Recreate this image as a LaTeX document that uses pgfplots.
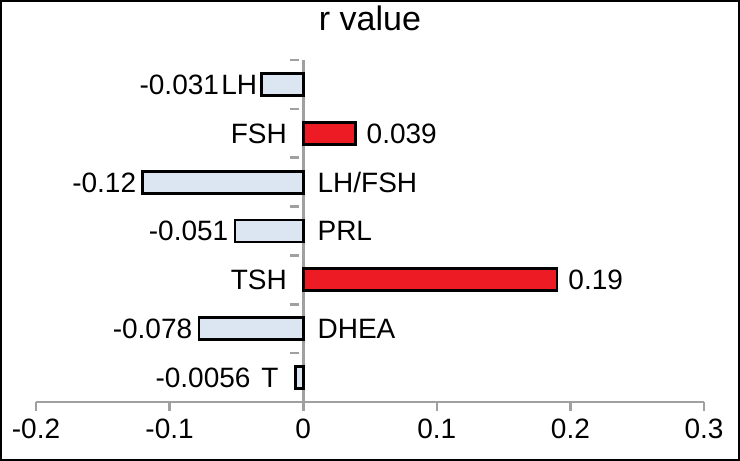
\documentclass[border=0pt]{standalone}
\usepackage{pgfplots}
\pgfplotsset{compat=1.18}
\usepackage{pgfplotstable}
\usepackage{fontspec}
\setmainfont{Liberation Sans}
\definecolor{barred}{RGB}{237,28,36}
\definecolor{barblue}{RGB}{220,230,242}
\definecolor{axgray}{RGB}{160,160,160}

% y: 7 = LH (top) ... 1 = T (bottom)
\pgfplotstableread{
y x lab dx
6 0.039 0.039 0
3 0.19 0.19 0
}\posdata
\pgfplotstableread{
y x lab dx
7 -0.031 -0.031 -18
5 -0.12 -0.12 0
4 -0.051 -0.051 0
2 -0.078 -0.078 0
1 -0.0056 -0.0056 -19.2
}\negdata

\begin{document}
\begin{tikzpicture}[font=\fontsize{14}{16}\selectfont]
\begin{axis}[
  scale only axis, width=334pt, height=171pt,
  xmin=-0.2, xmax=0.3, ymin=0.5, ymax=7.5,
  xbar, clip=false,
  axis x line=bottom, axis y line=middle,
  x axis line style={-, axgray, line width=1.3pt},
  y axis line style={-, axgray, line width=1.3pt},
  xtick={-0.2,-0.1,0,0.1,0.2,0.3},
  xticklabels={-0.2,-0.1,0,0.1,0.2,0.3},
  ytick={1.5,2.5,3.5,4.5,5.5,6.5,7.5},
  yticklabels={},
  tick align=outside, major tick length=4.5pt,
  tick style={axgray, line width=1.3pt},
  ytick style={xshift=-2.25pt},
  xticklabel style={inner sep=0pt, anchor=north, yshift=-4pt},
]
\addplot[xbar, bar width=11pt, bar shift=0pt, fill=barred, draw=black, line width=1.4pt,
  point meta=explicit symbolic, nodes near coords,
  visualization depends on={\thisrow{dx} \as \dx},
  every node near coord/.append style={black, draw=none, fill=none, anchor=west, inner ysep=0pt, inner xsep=5pt,
    text height=10pt, text depth=0pt, xshift=\dx pt}]
  table[x=x, y=y, meta=lab] {\posdata};
\addplot[xbar, bar width=11pt, bar shift=0pt, fill=barblue, draw=black, line width=1.4pt,
  point meta=explicit symbolic, nodes near coords,
  visualization depends on={\thisrow{dx} \as \dx},
  every node near coord/.append style={black, draw=none, fill=none, anchor=east, inner ysep=0pt, inner xsep=2.7pt,
    text height=10pt, text depth=0pt, xshift=\dx pt}]
  table[x=x, y=y, meta=lab] {\negdata};
% category names
\begin{scope}[every node/.style={inner sep=0pt, text height=10pt, text depth=0pt}]
\node[anchor=east, xshift=-22.8pt] at (axis cs:0,7) {LH};
\node[anchor=east, xshift=-8pt] at (axis cs:0,6) {FSH};
\node[anchor=west, xshift=7pt] at (axis cs:0,5) {LH/FSH};
\node[anchor=west, xshift=7pt] at (axis cs:0,4) {PRL};
\node[anchor=east, xshift=-8pt] at (axis cs:0,3) {TSH};
\node[anchor=west, xshift=7pt] at (axis cs:0,2) {DHEA};
\node[anchor=east, xshift=-12.2pt] at (axis cs:0,1) {T};
\end{scope}
\end{axis}
\useasboundingbox ([xshift=-18pt,yshift=-29.5pt]current axis.south west) rectangle ([xshift=18pt,yshift=30pt]current axis.north east);
\draw[line width=1pt] ([xshift=-17.5pt,yshift=-29pt]current axis.south west) rectangle ([xshift=17.5pt,yshift=29.5pt]current axis.north east);
\node[anchor=base, font=\fontsize{17}{19}\selectfont] at ([yshift=14.5pt]current axis.north) {r value};
\end{tikzpicture}
\end{document}
